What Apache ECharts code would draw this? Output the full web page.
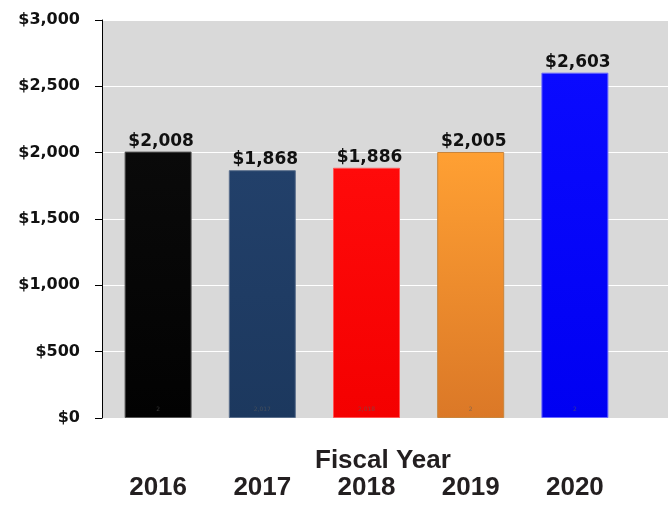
<!DOCTYPE html>
<html>
<head>
<meta charset="utf-8">
<script src="https://cdn.jsdelivr.net/npm/echarts@6/dist/echarts.min.js"></script>
<style>
  html, body { margin: 0; padding: 0; background: #fff; }
  #chart { width: 668px; height: 510px; }
</style>
</head>
<body>
<div id="chart"></div>
<script>
// 财年数据
var years = ['2016', '2017', '2018', '2019', '2020']
var amounts = [2008, 1868, 1886, 2005, 2603]
var innerLabels = ['2', '2,017', '2,018', '2', '2']
var yTicks = [0, 500, 1000, 1500, 2000, 2500, 3000]

// 每根柱子的渐变色 (上 -> 下)
var barColors = [
  ['#0a0a0a', '#020202'],
  ['#22406a', '#1c385e'],
  ['#ff0a0a', '#f40000'],
  ['#ffa033', '#db7827'],
  ['#0a0aff', '#0000f2']
]
var borderColors = ['#555', '#5a6f8c', '#ff5555', '#c9853c', '#6a6aff']

function money (v) {
  return '$' + Number(v).toLocaleString('en-US')
}

var myChart = echarts.init(document.getElementById('chart'))

var option = {
  animation: false,
  grid: [
    // 背景 + Y轴
    { left: 102, right: 0, top: 20, bottom: 92, show: true, backgroundColor: '#d9d9d9', borderWidth: 0 },
    // 柱子
    { left: 106, right: 41, top: 20, bottom: 92 }
  ],
  xAxis: [
    { gridIndex: 0, type: 'value', show: false, min: 0, max: 1 },
    {
      gridIndex: 1,
      type: 'category',
      data: years,
      axisLine: { show: false },
      axisTick: { show: false },
      axisLabel: {
        margin: 57,
        color: '#231f20',
        fontFamily: 'Liberation Sans, Arial',
        fontWeight: 'bold',
        fontSize: 26
      }
    }
  ],
  yAxis: [
    {
      gridIndex: 0,
      type: 'value',
      min: yTicks[0],
      max: yTicks[yTicks.length - 1],
      interval: 500,
      axisLine: { show: true, lineStyle: { color: '#000', width: 1 } },
      axisTick: { show: true, length: 7, lineStyle: { color: '#000' } },
      splitLine: { show: true, lineStyle: { color: '#ffffff', width: 1 } },
      axisLabel: {
        margin: 22,
        color: '#111',
        fontFamily: 'DejaVu Sans',
        fontWeight: 'bold',
        fontSize: 16,
        formatter: function (v) { return money(v) }
      }
    },
    {
      gridIndex: 1,
      type: 'value',
      min: yTicks[0],
      max: yTicks[yTicks.length - 1],
      interval: 500,
      show: false
    }
  ],
  graphic: [
    {
      type: 'text',
      left: 390 - 75,
      top: 448,
      style: {
        text: 'Fiscal Year',
        fill: '#231f20',
        font: 'bold 26px "Liberation Sans", Arial'
      }
    }
  ],
  series: [
    {
      type: 'bar',
      xAxisIndex: 1,
      yAxisIndex: 1,
      barWidth: 67,
      data: amounts.map(function (v, i) {
        return {
          value: v,
          itemStyle: {
            color: new echarts.graphic.LinearGradient(0, 0, 0, 1, [
              { offset: 0, color: barColors[i][0] },
              { offset: 1, color: barColors[i][1] }
            ]),
            borderColor: borderColors[i],
            borderWidth: 1
          }
        }
      }),
      label: {
        show: true,
        position: 'top',
        distance: 2,
        offset: [3, 0],
        color: '#111',
        fontFamily: 'DejaVu Sans',
        fontWeight: 'bold',
        fontSize: 17,
        formatter: function (p) { return money(p.value) }
      }
    },
    {
      // 柱子底部的小字
      type: 'scatter',
      xAxisIndex: 1,
      yAxisIndex: 1,
      symbolSize: 0,
      data: innerLabels.map(function () { return 0 }),
      label: {
        show: true,
        position: 'top',
        distance: 6,
        color: 'rgba(90,90,90,0.8)',
        fontSize: 6,
        fontFamily: 'DejaVu Sans',
        formatter: function (p) { return innerLabels[p.dataIndex] }
      }
    }
  ]
}

myChart.setOption(option)
</script>
</body>
</html>
